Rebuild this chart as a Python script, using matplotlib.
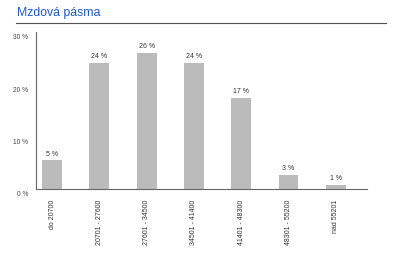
import matplotlib
matplotlib.use("Agg")
import matplotlib.pyplot as plt
from matplotlib.lines import Line2D
from matplotlib.transforms import ScaledTranslation

categories = ["do 20700", "20701 - 27600", "27601 - 34500", "34501 - 41400",
              "41401 - 48300", "48301 - 55200", "nad 55201"]
values = [5.4, 24.0, 26.0, 24.0, 17.4, 2.7, 0.7]
value_labels = ["5 %", "24 %", "26 %", "24 %", "17 %", "3 %", "1 %"]
yticks = [0, 10, 20, 30]
ytick_labels = ["0 %", "10 %", "20 %", "30 %"]
title = "Mzdová pásma"

plt.rcParams['font.family'] = ['Liberation Sans', 'DejaVu Sans']

fig = plt.figure(figsize=(4, 2.58), dpi=100)
ax = fig.add_axes([36/400, 1-188.7/258, (367-36)/400, (188.7-31.8)/258])

x = list(range(len(categories)))
ax.bar(x, values, width=0.42, color="#bbbbbb", zorder=2)
for xi, v, lab in zip(x, values, value_labels):
    ax.annotate(lab, (xi, v), xytext=(0, 2), textcoords="offset points",
                ha="center", va="bottom", fontsize=5, color="#333333")

ax.set_xlim(-0.34, 6.66)
ax.set_ylim(0, 30)
ax.set_yticks(yticks)
ax.set_yticklabels(ytick_labels, fontsize=4.8, color="#444444")
ax.set_xticks(x)
ax.set_xticklabels(categories, rotation=90, fontsize=5, color="#333333")
ax.tick_params(axis="both", length=0)
ax.tick_params(axis="y", pad=5.5)
ax.tick_params(axis="x", pad=8)
for lbl in ax.get_yticklabels():
    lbl.set_transform(lbl.get_transform() + ScaledTranslation(0, -5/100, fig.dpi_scale_trans))

for s in ["top", "right"]:
    ax.spines[s].set_visible(False)
ax.spines["left"].set_color("#666666")
ax.spines["bottom"].set_color("#666666")
ax.spines["left"].set_linewidth(0.8)
ax.spines["bottom"].set_linewidth(0.8)

fig.text(17/400, 1-13/258, title, fontsize=8.8, color="#1f5ac4", ha="left", va="center")
fig.add_artist(Line2D([16/400, 386/400], [1-23/258, 1-23/258], color="#555555", lw=0.8,
                      transform=fig.transFigure))

fig.savefig("out.png", dpi=100)
